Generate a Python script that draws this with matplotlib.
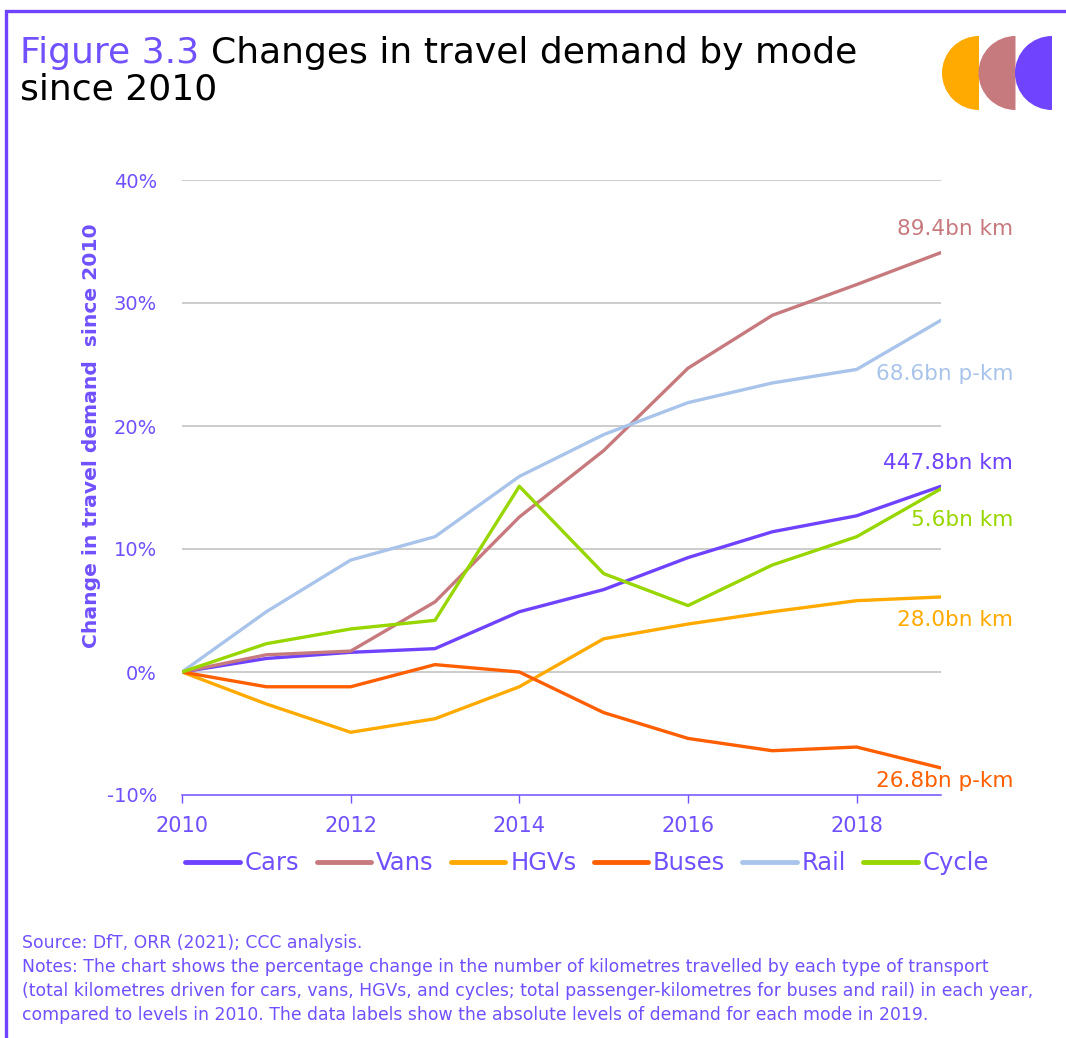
import matplotlib.pyplot as plt
from matplotlib.patches import Wedge
from matplotlib.ticker import FuncFormatter

plt.rcParams['font.family'] = ['DejaVu Sans']

years = [2010, 2011, 2012, 2013, 2014, 2015, 2016, 2017, 2018, 2019]
cars = [0, 1.1, 1.6, 1.9, 4.9, 6.7, 9.3, 11.4, 12.7, 15.1]
vans = [0, 1.4, 1.7, 5.7, 12.6, 18.0, 24.7, 29.0, 31.5, 34.1]
hgvs = [0, -2.6, -4.9, -3.8, -1.2, 2.7, 3.9, 4.9, 5.8, 6.1]
buses = [0, -1.2, -1.2, 0.6, 0.0, -3.3, -5.4, -6.4, -6.1, -7.8]
rail = [0, 4.9, 9.1, 11.0, 15.9, 19.3, 21.9, 23.5, 24.6, 28.6]
cycle = [0, 2.3, 3.5, 4.2, 15.1, 8.0, 5.4, 8.7, 11.0, 14.9]

modes = ['Cars', 'Vans', 'HGVs', 'Buses', 'Rail', 'Cycle']
end_labels = ['447.8bn km', '89.4bn km', '28.0bn km', '26.8bn p-km', '68.6bn p-km', '5.6bn km']
colours = ['#6E42FF', '#C77A7E', '#FFAA00', '#FF5F00', '#A9C4EB', '#98D600']
label_dy = [23, 24, -23, -13, -54, -31]  # pixel offsets of the 2019 labels

purple = '#7150FF'

fig = plt.figure(figsize=(10.66, 10.38), dpi=100)

# background layer in pixel coordinates for border, title, logo, notes
bg = fig.add_axes([0, 0, 1, 1])
bg.set_xlim(0, 1066)
bg.set_ylim(1038, 0)
bg.axis('off')
bg.plot([6, 6, 1066], [1038, 11, 11], color='#7044FF', lw=2.4, solid_joinstyle='miter')

for cx, c in zip([979, 1015.5, 1052], ['#FFAA00', '#C77A7E', '#7044FF']):
    bg.add_patch(Wedge((cx, 73), 37, 90, 270, color=c, lw=0))

t1 = bg.text(20, 63, 'Figure 3.3 ', color=purple, fontsize=26, va='baseline')
bg.annotate('Changes in travel demand by mode', xy=(1, 0), xycoords=t1, va='bottom',
            color='black', fontsize=26)
bg.text(20, 100, 'since 2010', color='black', fontsize=26, va='baseline')

notes = [
    'Source: DfT, ORR (2021); CCC analysis.',
    'Notes: The chart shows the percentage change in the number of kilometres travelled by each type of transport',
    '(total kilometres driven for cars, vans, HGVs, and cycles; total passenger-kilometres for buses and rail) in each year,',
    'compared to levels in 2010. The data labels show the absolute levels of demand for each mode in 2019.',
]
for i, line in enumerate(notes):
    bg.text(22, 948 + 24 * i, line, color=purple, fontsize=12.4, va='baseline')

ax = fig.add_axes([182 / 1066, 1 - 795 / 1038, 759 / 1066, 615 / 1038])
series = [cars, vans, hgvs, buses, rail, cycle]
for name, vals, c, lab, dy in zip(modes, series, colours, end_labels, label_dy):
    ax.plot(years, vals, color=c, lw=2.4, label=name, solid_capstyle='round')
    ax.annotate(lab, xy=(years[-1], vals[-1]), xytext=(72, dy), textcoords='offset pixels',
                ha='right', va='center', color=c, fontsize=15.5)

ax.set_xlim(2010, 2019)
ax.set_ylim(-10, 40)
ax.set_yticks([-10, 0, 10, 20, 30, 40])
ax.yaxis.set_major_formatter(FuncFormatter(lambda v, p: f'{v:.0f}%'))
ax.set_xticks([2010, 2012, 2014, 2016, 2018])
for y in [0, 10, 20, 30, 40]:
    ax.axhline(y, color='#BFBFBF', lw=1.1, zorder=0)
for s in ['top', 'right', 'left']:
    ax.spines[s].set_visible(False)
ax.spines['bottom'].set_color(purple)
ax.spines['bottom'].set_linewidth(1.1)
ax.tick_params(axis='y', length=0, pad=18, labelsize=14, labelcolor=purple)
ax.tick_params(axis='x', length=6, width=1, color=purple, pad=9, labelsize=15, labelcolor=purple)
ax.set_ylabel('Change in travel demand  since 2010', color=purple, fontsize=14.6,
              fontweight='bold', va='center')
ax.yaxis.set_label_coords(-0.119, 0.585)
ax.patch.set_alpha(0)

leg = ax.legend(loc='center', bbox_to_anchor=(0.534, -0.111), ncol=6, frameon=False,
                fontsize=17.5, handlelength=2.25, handletextpad=0.2, columnspacing=0.7,
                labelcolor=purple)
for h in leg.get_lines():
    h.set_linewidth(3.5)

fig.savefig('out.png', dpi=100)
